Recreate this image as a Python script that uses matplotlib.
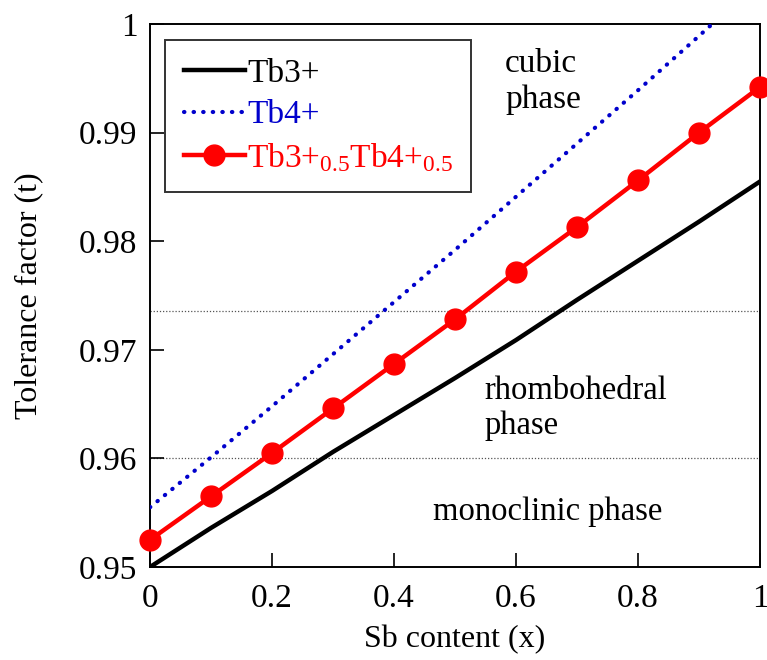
import numpy as np
import matplotlib.pyplot as plt

plt.rcParams['font.family'] = ['Liberation Serif', 'DejaVu Serif']
plt.rcParams['mathtext.fontset'] = 'custom'
plt.rcParams['mathtext.rm'] = 'Liberation Serif'
plt.rcParams['mathtext.it'] = 'Liberation Serif:italic'

# Sb content and tolerance factor for each Tb valence
sb_content = [0.0, 0.1, 0.2, 0.3, 0.4, 0.5, 0.6, 0.7, 0.8, 0.9, 1.0]
t_tb3 = [0.9500, 0.9536, 0.9570, 0.9606, 0.9640, 0.9674, 0.9709, 0.9746, 0.9782, 0.9818, 0.9855]
t_tb4 = [0.9555, 0.9601, 0.9648, 0.9696, 0.9744, 0.9792, 0.9841, 0.9890, 0.9939, 0.9989, 1.0040]
t_mixed = [0.9525, 0.9565, 0.9605, 0.9646, 0.9687, 0.9728, 0.9772, 0.9813, 0.9856, 0.9900, 0.9942]

# phase boundaries
rhombo_limit = 0.9600
cubic_limit = 0.9736

xticks = [0, 0.2, 0.4, 0.6, 0.8, 1]
xtick_labels = ['0', '0.2', '0.4', '0.6', '0.8', '1']
yticks = [0.95, 0.96, 0.97, 0.98, 0.99, 1.0]
ytick_labels = ['0.95', '0.96', '0.97', '0.98', '0.99', '1']

fig = plt.figure(figsize=(7.67, 6.6), dpi=100)
ax = fig.add_axes([0.1956, 0.1409, 0.7953, 0.8227])

ax.axhline(rhombo_limit, color='#555555', lw=0.9, ls=(0, (1, 1.5)), zorder=1)
ax.axhline(cubic_limit, color='#555555', lw=0.9, ls=(0, (1, 1.5)), zorder=1)

ax.plot(sb_content, t_tb3, color='black', lw=3.2, label='Tb3+', zorder=3)
ax.plot(sb_content, t_tb4, color='#0000cc', lw=3.0, ls=(0, (0.1, 2.2)),
        dash_capstyle='round', label='Tb4+', zorder=3)
ax.plot(sb_content, t_mixed, color='red', lw=3.2, marker='o', ms=15,
        label='Tb3+$_{0.5}$Tb4+$_{0.5}$', zorder=4, clip_on=False)

ax.set_xlim(0, 1)
ax.set_ylim(0.95, 1.0)
ax.set_xticks(xticks)
ax.set_xticklabels(xtick_labels)
ax.set_yticks(yticks)
ax.set_yticklabels(ytick_labels)
ax.tick_params(direction='in', length=10, width=1.2, labelsize=24)
ax.tick_params(axis='x', pad=12)
ax.tick_params(axis='y', pad=9)
for sp in ax.spines.values():
    sp.set_linewidth(1.4)

ax.set_xlabel('Sb content (x)', fontsize=23, labelpad=8)
ax.set_ylabel('Tolerance factor (t)', fontsize=23, labelpad=26)

ax.text(0.582, 0.9947, 'cubic\nphase', fontsize=24, va='center', ha='left', linespacing=1.25)
ax.text(0.548, 0.9646, 'rhombohedral\nphase', fontsize=23.5, va='center', ha='left', linespacing=1.2)
ax.text(0.464, 0.9551, 'monoclinic phase', fontsize=23.5, va='center', ha='left')

leg = ax.legend(loc='upper left', bbox_to_anchor=(0.025, 0.97), fontsize=24,
                frameon=True, fancybox=False, handlelength=1.85, handletextpad=0.05,
                borderpad=0.55, labelspacing=0.32, borderaxespad=0)
leg.get_frame().set_edgecolor('black')
leg.get_frame().set_linewidth(1.4)
for txt, col in zip(leg.get_texts(), ['black', '#0000cc', 'red']):
    txt.set_color(col)

fig.savefig('out.png', dpi=100)
